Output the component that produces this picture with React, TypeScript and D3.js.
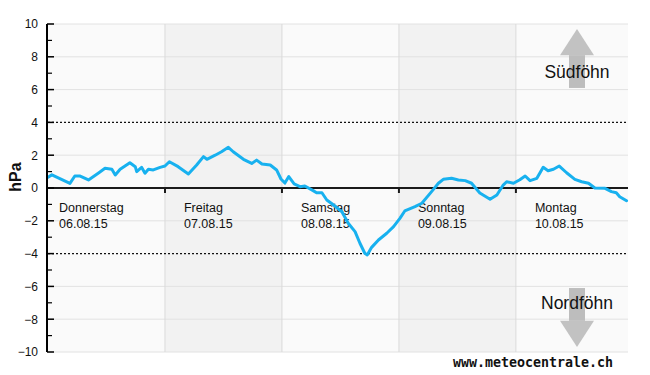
import { useEffect, useRef } from 'react';
import * as d3 from 'd3';

const DAY_NAMES = ['Donnerstag', 'Freitag', 'Samstag', 'Sonntag', 'Montag'];
const DAY_DATES = ['06.08.15', '07.08.15', '08.08.15', '09.08.15', '10.08.15'];
const Y_TICKS = [-10, -8, -6, -4, -2, 0, 2, 4, 6, 8, 10];
const FOEHN_LIMIT = 4;

// hours since Do 06.08.15 00:00
const HOURS = [
  0, 0.8, 4.5, 5.5, 6.6, 8.3, 10.3, 11.7, 13.1, 13.8, 14.8, 16.8, 17.9, 18.2, 19.2, 19.9, 20.6, 21.6, 23.0,
  24.0, 24.9, 26.7, 28.8, 30.5, 31.9, 32.6, 34.3, 35.6, 37.0, 38.0, 40.1, 41.8, 42.8, 43.9, 45.6, 46.9, 47.8,
  48.6, 49.4, 50.5, 51.7, 52.7, 54.4, 55.1, 56.2, 57.2, 58.6, 60.3, 61.6, 63.0, 64.0, 65.0, 65.5, 66.4, 67.8,
  69.5, 70.9, 72.2, 73.2, 75.3, 76.7, 78.7, 80.1, 81.1, 82.8, 84.2, 85.6, 86.9, 88.6, 90.7, 92.1, 93.4, 94.1,
  95.5, 96.8, 97.9, 98.9, 100.3, 101.6, 102.6, 103.7, 104.9, 106.4, 108.1, 109.5, 110.9, 112.2, 114.3, 115.6,
  116.6, 117.3, 118.7,
];
// Druckdifferenz Süd-Nord in hPa
const DIFF = [
  0.65, 0.8, 0.28, 0.73, 0.73, 0.49, 0.9, 1.2, 1.14, 0.79, 1.14, 1.54, 1.3, 1.0, 1.26, 0.9, 1.14, 1.1, 1.26,
  1.34, 1.6, 1.3, 0.85, 1.4, 1.91, 1.75, 2.0, 2.21, 2.48, 2.21, 1.75, 1.5, 1.7, 1.46, 1.4, 1.1, 0.55,
  0.3, 0.7, 0.25, 0.08, 0.12, -0.16, -0.29, -0.29, -0.73, -1.04, -1.45, -2.15, -2.66, -3.37, -3.98, -4.08, -3.62, -3.17,
  -2.76, -2.36, -1.85, -1.4, -1.14, -0.93, -0.22, 0.29, 0.53, 0.59, 0.49, 0.45, 0.29, -0.31, -0.69, -0.43, 0.18, 0.38,
  0.29, 0.5, 0.73, 0.45, 0.59, 1.26, 1.05, 1.14, 1.34, 0.93, 0.53, 0.38, 0.29, 0.0, -0.02, -0.22,
  -0.29, -0.53, -0.78,
];

const FONT = '"Liberation Sans", Arial, sans-serif';

export default function App() {
  const svgRef = useRef<SVGSVGElement>(null);

  useEffect(() => {
    document.body.style.margin = '0';
    const svgEl = svgRef.current;
    if (!svgEl) return;
    const width = 650, height = 375;
    const margin = { top: 24, right: 22, bottom: 23, left: 48 };
    const x = d3.scaleLinear().domain([0, 119]).range([margin.left, width - margin.right]);
    const y = d3.scaleLinear().domain([-10, 10]).range([height - margin.bottom, margin.top]);
    const [x0, x1] = x.range();
    const [yb, yt] = y.range();

    const svg = d3.select(svgEl).attr('viewBox', `0 0 ${width} ${height}`);
    svg.selectAll('*').remove();

    // day columns
    svg.append('g').selectAll('rect').data(DAY_NAMES).join('rect')
      .attr('x', (_, i) => x(i * 24))
      .attr('y', yt)
      .attr('width', (_, i) => Math.min(x((i + 1) * 24), x1) - x(i * 24))
      .attr('height', yb - yt)
      .attr('fill', (_, i) => (i % 2 ? '#f2f2f2' : '#fafafa'));

    // grid
    svg.append('g').selectAll('line').data(Y_TICKS.filter((t) => t !== 0 && Math.abs(t) !== FOEHN_LIMIT)).join('line')
      .attr('x1', x0).attr('x2', x1).attr('y1', (d) => y(d)).attr('y2', (d) => y(d))
      .attr('stroke', '#e2e2e2').attr('stroke-width', 1);
    svg.append('g').selectAll('line').data(DAY_NAMES.slice(1)).join('line')
      .attr('x1', (_, i) => x((i + 1) * 24)).attr('x2', (_, i) => x((i + 1) * 24))
      .attr('y1', yt).attr('y2', yb)
      .attr('stroke', '#dadada').attr('stroke-width', 1);

    // föhn limits
    svg.append('g').selectAll('line').data([FOEHN_LIMIT, -FOEHN_LIMIT]).join('line')
      .attr('x1', x0).attr('x2', x1).attr('y1', (d) => y(d)).attr('y2', (d) => y(d))
      .attr('stroke', '#111').attr('stroke-width', 1.2).attr('stroke-dasharray', '2,2');

    // day labels
    const labels = svg.append('g').attr('font-family', FONT).attr('font-size', 12.5).attr('fill', '#111');
    DAY_NAMES.forEach((name, i) => {
      const lx = i === 0 ? x0 + 11 : x(i * 24) + 19;
      labels.append('text').attr('x', lx).attr('y', y(0) + 24).text(name);
      labels.append('text').attr('x', lx).attr('y', y(0) + 40).text(DAY_DATES[i]);
    });

    // zero line + day ticks
    svg.append('line').attr('x1', x0).attr('x2', x1).attr('y1', y(0)).attr('y2', y(0))
      .attr('stroke', '#1a1a1a').attr('stroke-width', 2);
    svg.append('g').selectAll('line').data(DAY_NAMES.slice(1)).join('line')
      .attr('x1', (_, i) => x((i + 1) * 24)).attr('x2', (_, i) => x((i + 1) * 24))
      .attr('y1', y(0)).attr('y2', y(0) + 5)
      .attr('stroke', '#1a1a1a').attr('stroke-width', 2);

    // arrows
    const ax = x1 - 51;
    const arrow = svg.append('g').attr('fill', '#c2c2c2');
    [1, -1].forEach((s) => {
      arrow.append('path').attr('d', `M${ax},${y(9.7 * s)}L${ax + 17},${y(8.1 * s)}L${ax - 17},${y(8.1 * s)}Z`);
      arrow.append('rect').attr('x', ax - 8).attr('width', 16)
        .attr('y', Math.min(y(8.1 * s), y(6.1 * s)))
        .attr('height', Math.abs(y(6.1 * s) - y(8.1 * s)))
        .attr('fill', '#bdbdbd');
    });
    const foehn = svg.append('g').attr('font-family', FONT).attr('font-size', 17.5).attr('fill', '#111')
      .attr('text-anchor', 'middle');
    foehn.append('text').attr('x', ax).attr('y', y(6.71)).text('Südföhn');
    foehn.append('text').attr('x', ax).attr('y', y(-7.38)).text('Nordföhn');

    // data line
    const line = d3.line<number>().x((_, i) => x(HOURS[i])).y((d) => y(d));
    svg.append('path').datum(DIFF).attr('d', line)
      .attr('fill', 'none').attr('stroke', '#18b1ef').attr('stroke-width', 3)
      .attr('stroke-linejoin', 'round').attr('stroke-linecap', 'round');

    // y axis
    const yAxis = svg.append('g');
    yAxis.append('line').attr('x1', x0 - 1).attr('x2', x0 - 1).attr('y1', yt).attr('y2', yb)
      .attr('stroke', '#000').attr('stroke-width', 2);
    yAxis.selectAll('.minor').data(d3.range(-9, 10, 2)).join('line').attr('class', 'minor')
      .attr('x1', x0 - 1).attr('x2', x0 + 4).attr('y1', (d) => y(d)).attr('y2', (d) => y(d))
      .attr('stroke', '#000').attr('stroke-width', 1.2);
    yAxis.selectAll('.major').data(Y_TICKS).join('line').attr('class', 'major')
      .attr('x1', x0 - 1).attr('x2', x0 + 6).attr('y1', (d) => y(d)).attr('y2', (d) => y(d))
      .attr('stroke', '#000').attr('stroke-width', 1.5);
    yAxis.selectAll('text').data(Y_TICKS).join('text')
      .attr('x', x0 - 10).attr('y', (d) => y(d)).attr('dy', '0.36em')
      .attr('text-anchor', 'end').attr('font-family', FONT).attr('font-size', 12).attr('fill', '#111')
      .text((d) => d3.format('d')(d));

    svg.append('text').attr('transform', `translate(21,${y(0) - 11}) rotate(-90)`)
      .attr('text-anchor', 'middle').attr('font-family', FONT).attr('font-weight', 'bold')
      .attr('font-size', 16).attr('fill', '#111').text('hPa');

    svg.append('text').attr('x', x1 - 15).attr('y', 367).attr('text-anchor', 'end')
      .attr('font-family', '"DejaVu Sans Mono", monospace').attr('font-weight', 'bold')
      .attr('font-size', 13.3).attr('fill', '#111').text('www.meteocentrale.ch');
  }, []);

  return <svg ref={svgRef} width={650} height={375} style={{ display: 'block', background: '#fff' }} />;
}
